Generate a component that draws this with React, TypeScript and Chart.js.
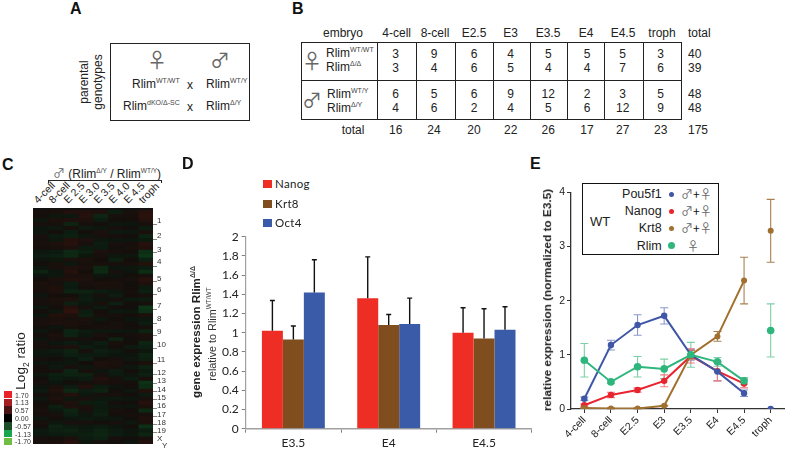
import React, { useEffect, useRef } from "react";
import { Chart, registerables } from "chart.js";

Chart.register(...registerables);

const SANS = '"Liberation Sans", Arial, sans-serif';
const INK = "#222";

/* Panel B */
const stages = ["4-cell", "8-cell", "E2.5", "E3", "E3.5", "E4", "E4.5", "troph"];
const femaleWT = [3, 9, 6, 4, 5, 5, 5, 3];
const femaleKO = [3, 4, 6, 5, 4, 4, 7, 6];
const maleWT = [6, 5, 6, 9, 12, 2, 3, 5];
const maleKO = [4, 6, 2, 4, 5, 6, 12, 9];
const stageTotals = [16, 24, 20, 22, 26, 17, 27, 23];
const rowTotals = [40, 39, 48, 48];
const grandTotal = 175;

/* Panel C */
const heatColumns = ["4-cell", "8-cell", "E 2.5", "E 3.0", "E 3.5", "E 4.0", "E 4.5", "troph"];
const c4cell = [.1,.08,-.1,-.12,.05,.1,-.05,.08,.12,.05, 0,-.1,.05,-.15,-.05,.1,.05,-.1,.06,.05, -.05,.08,-.08,-.1,.06,.1,-.05,.05,-.1,.05, .12,.1,-.08,.05,-.1,.06,.1,-.05,.08,.12, .15,.05,-.05,-.3,-.08,.05,-.05,-.2,-.1,.05, .1,.06,.1,-.05,-.08,.1,-.1,.05,.08];
const c8cell = [.12,.05,-.15,-.25,-.3,-.1,.05,.1,-.1,-.25, .08,.2,.1,.25,.15,-.08,-.2,-.25,.1,-.12, -.08,.05,-.05,-.15,.1,-.08,.1,.15,.05,-.05, .2,.15,.25,-.1,.05,.1,.18,.05,.2,.22, .1,.15,-.1,-.08,.1,.12,-.1,-.25,-.15,.1, .2,-.1,-.15,.05,-.12,.1,.15,-.1,.12];
const c2p5 = [.35,.15,-.2,-.3,-.15,.1,-.08,-.25,-.35,.2, .2,-.1,.3,-.4,-.2,.05,-.1,-.3,-.35,.1, -.1,-.05,-.25,-.3,.2,-.2,.1,-.3,-.35,.1, .15,.1,.2,.5,.3,-.25,.2,.05,-.3,-.15, -.2,.25,.15,.3,.2,-.1,.15,-.4,-.45,.2, .35,.3,-.25,-.2,.1,-.3,.2,-.1,.25];
const c3p0 = [-.1,-.2,-.25,-.15,-.1,.1,-.15,-.1,.1,.15, -.2,.15,-.1,-.2,.25,.1,-.2,-.3,.1,-.1, .05,-.25,-.15,.1,-.2,-.05,.1,-.1,-.15,.05, .1,.15,-.25,-.2,.1,-.1,-.2,-.15,-.3,.05, .1,.2,.15,.05,.15,.1,.15,-.1,-.25,-.15, .1,.2,-.1,.05,-.15,.1,.2,.3,.25];
const c3p5 = [.1,-.25,-.35,-.3,-.15,.05,-.1,-.25,-.2,-.15, -.2,-.1,.1,-.3,-.2,.15,.25,.1,-.05,.15, .2,.05,-.15,-.25,-.1,-.2,.05,.15,-.1,.1, .05,-.1,.1,.05,-.15,.12,-.05,.1,-.2,.1, .15,.05,-.1,-.45,-.4,.1,.05,.1,.2,-.15, -.2,-.1,.1,.15,-.1,.05,-.2,-.35,.2];
const c4p0 = [.02,.08,-.2,-.15,-.08,.1,-.1,.05,.12,-.05, .08,-.12,.1,.05,-.05,.12,.1,-.15,-.2,.1, .15,.1,-.08,-.12,.05,.12,-.3,.05,-.1,.12, .1,.05,.1,-.12,.05,-.25,.1,-.2,-.1,.1, .15,.08,-.05,.1,-.08,.12,-.25,-.1,.1,.05, .1,-.05,.08,-.12,.1,-.1,.05,.1,-.2];
const c4p5 = [-.05,.02,-.1,-.08,.05,-.1,.02,.08,.05,-.05, .02,-.08,.05,-.1,.05,.08,-.2,-.05,.05,-.1, .04,-.1,-.05,.05,-.15,.05,.02,.08,-.05,.02, .05,-.08,.05,-.1,.02,.05,-.12,.05,.08,.05, .02,.1,.05,-.05,-.1,.12,.05,-.1,.05,.1, .08,-.05,.05,-.1,.02,-.08,.05,.08,.1];
const cTroph = [.25,.1,-.35,-.2,-.55,.15,.2,.1,-.45,.15, .3,.1,-.15,.25,-.5,-.6,.12,-.25,-.15,-.3, .15,-.25,-.3,-.1,-.25,-.35,.1,.15,-.3,.1, -.2,-.1,.15,-.55,-.65,.1,-.2,.1,-.25,-.15, .2,.35,.1,-.5,-.2,.3,-.25,-.65,-.55,.25, .35,-.15,-.3,.15,-.2,.1,.3,.4,.35];
const chromLabels = ["1","2","3","4","5","6","7","8","9","10","11","12","13","14","15","16","17","18","19","X"];
const chromCentres = [2,6,9.5,12.75,17,20,24,27.5,30.75,34.25,38,41.25,43.5,45.75,47.75,50,52.25,54.25,56.25,58.5];
const chromEdges = [4.2,8,11,15,18.5,22,26,29.5,32.5,36,40,42.5,44.8,46.8,49,51.2,53.2,55.2,57.3];
const scaleLabels = ["1.70","1.13","0.57","0.00","-0.57","-1.13","-1.70"];
const scaleColors = ["#e8232a","#a51e22","#4a1414","#000000","#1e4d2a","#1aa650","#70bf44"];

/* Panel D */
const barGroups = ["E3.5", "E4", "E4.5"];
const nanogBar = [1.02, 1.36, 1.0];
const krt8Bar = [0.93, 1.08, 0.94];
const oct4Bar = [1.42, 1.09, 1.03];
const nanogBarErr = [0.315, 0.43, 0.26];
const krt8BarErr = [0.14, 0.11, 0.31];
const oct4BarErr = [0.34, 0.27, 0.24];

/* Panel E */
const lineStages = ["4-cell", "8-cell", "E2.5", "E3", "E3.5", "E4", "E4.5", "troph"];
const pou5f1 = [0.19, 1.18, 1.55, 1.72, 1.0, 0.69, 0.29, 0];
const pou5f1Err = [0.03, 0.09, 0.19, 0.15, 0.1, 0.17, 0.06, 0];
const nanog = [0.07, 0.26, 0.35, 0.52, 0.98, 0.7, 0.47, null];
const nanogErr = [0.02, 0.05, 0.04, 0.11, 0.13, 0.18, 0.08, 0];
const krt8 = [0.02, 0.01, 0.01, 0.06, 1.0, 1.34, 2.37, 3.29];
const krt8Err = [0.01, 0.01, 0.01, 0.01, 0.08, 0.09, 0.43, 0.58];
const rlim = [0.9, 0.5, 0.78, 0.74, 1.0, 0.87, 0.52, 1.45];
const rlimErr = [0.31, 0.03, 0.19, 0.18, 0.23, 0.08, 0.06, 0.49];

function heatColor(v: number) {
  if (v >= 0) return `rgb(${Math.round(18 + v * 60)},${Math.round(15 + v * 5)},12)`;
  return `rgb(13,${Math.round(18 - v * 52)},${Math.round(13 - v * 14)})`;
}

const errorBars = {
  id: "errorBars",
  beforeDatasetsDraw(chart: any) {
    const opt = chart.options.plugins.errorBars;
    if (!opt || opt.up) return;
    draw(chart, false);
  },
  afterDatasetsDraw(chart: any) {
    const opt = chart.options.plugins.errorBars;
    if (!opt || !opt.up) return;
    draw(chart, true);
  },
};
function draw(chart: any, up: boolean) {
  const ctx = chart.ctx;
  const y = chart.scales.y;
  chart.data.datasets.forEach((ds: any, i: number) => {
    if (!ds.errs) return;
    const meta = chart.getDatasetMeta(i);
    ds.errs.forEach((e: number, k: number) => {
      const v = ds.data[k];
      if (v == null || !e) return;
      const x = meta.data[k].x;
      const top = y.getPixelForValue(v + e);
      const bot = y.getPixelForValue(up ? v : v - e);
      const cap = up ? 2.5 : 4;
      ctx.save();
      ctx.strokeStyle = ds.errColor;
      ctx.lineWidth = up ? 1.4 : 1.1;
      ctx.beginPath();
      ctx.moveTo(x, top);
      ctx.lineTo(x, bot);
      ctx.moveTo(x - cap, top);
      ctx.lineTo(x + cap, top);
      if (!up) {
        ctx.moveTo(x - cap, bot);
        ctx.lineTo(x + cap, bot);
      }
      ctx.stroke();
      ctx.restore();
    });
  });
}

function useChart(make: (c: HTMLCanvasElement) => Chart) {
  const ref = useRef<HTMLCanvasElement | null>(null);
  useEffect(() => {
    const chart = make(ref.current!);
    return () => chart.destroy();
  }, []);
  return ref;
}

function Canvas({ x, y, w, h, make }: any) {
  const ref = useChart(make);
  return (
    <div style={{ position: "absolute", left: x, top: y, width: w, height: h }}>
      <canvas ref={ref} width={w} height={h} style={{ display: "block", width: w, height: h }} />
    </div>
  );
}

function T({ x, y, a = "l", s = 12, w = 400, c = INK, rot = 0, f = SANS, ls = 0, children }: any) {
  const tx = a === "l" ? "0" : a === "r" ? "-100%" : "-50%";
  return (
    <div
      style={{
        position: "absolute", left: x, top: y, whiteSpace: "nowrap", lineHeight: 1,
        fontSize: s, fontWeight: w, color: c, fontFamily: f, letterSpacing: ls,
        transform: `translate(${tx},-50%) rotate(${rot}deg)`,
      }}
    >
      {children}
    </div>
  );
}

function Rlim({ sup, size = 7 }: any) {
  return (
    <>
      Rlim<sup style={{ fontSize: size, lineHeight: 0, color: "#444" }}>{sup}</sup>
    </>
  );
}

function Line({ x, y, w, h, c = INK }: any) {
  return <div style={{ position: "absolute", left: x, top: y, width: w, height: h, background: c }} />;
}

const SYM = '"Noto Sans CJK SC", "DejaVu Sans", sans-serif';

function PanelA() {
  return (
    <>
      <T x={70} y={9} s={16} w={700} c="#111">A</T>
      <T x={84} y={82} a="c" s={12} rot={-90}>parental</T>
      <T x={98} y={82} a="c" s={12} rot={-90}>genotypes</T>
      <div style={{ position: "absolute", left: 110, top: 43, width: 140, height: 78, border: `1.3px solid ${INK}`, boxSizing: "border-box" }} />
      <T x={157} y={60} a="c" s={20} f={SYM} c="#666">♀</T>
      <T x={220} y={60} a="c" s={20} f={SYM} c="#666">♂</T>
      <T x={132} y={84}><Rlim sup="WT/WT" /></T>
      <T x={190} y={85} a="c">x</T>
      <T x={206} y={84}><Rlim sup="WT/Y" /></T>
      <T x={123} y={106}><Rlim sup="dKO/Δ-SC" /></T>
      <T x={190} y={107} a="c">x</T>
      <T x={206} y={106}><Rlim sup="Δ/Y" /></T>
    </>
  );
}

function PanelB() {
  const hx = [396.7, 435, 474, 510.7, 548, 586, 623, 662];
  const vx = [395.7, 434, 474, 510.7, 548.3, 587, 622.7, 660.7];
  const cols = [377, 416, 455, 493, 530, 567, 604, 643];
  const rows: [number[], number][] = [[femaleWT, 53.5], [femaleKO, 67.5], [maleWT, 94], [maleKO, 108]];
  const ty = [53.5, 67.5, 94, 108];
  return (
    <>
      <T x={292} y={9} s={16} w={700} c="#111">B</T>
      <T x={343} y={33} a="c">embryo</T>
      {stages.map((s, i) => <T key={s} x={hx[i]} y={33} a="c">{s}</T>)}
      <T x={699.3} y={33} a="c">total</T>
      <div style={{ position: "absolute", left: 301, top: 42, width: 381, height: 78, border: `1.3px solid ${INK}`, boxSizing: "border-box" }} />
      <Line x={302} y={80} w={379} h={1} />
      {cols.map((x) => <Line key={x} x={x} y={42} w={1} h={78} />)}
      <T x={312} y={61} a="c" s={20} f={SYM} c="#666">♀</T>
      <T x={312} y={100} a="c" s={20} f={SYM} c="#666">♂</T>
      <T x={326} y={53}><Rlim sup="WT/WT" /></T>
      <T x={326} y={67}><Rlim sup="Δ/Δ" /></T>
      <T x={327} y={94}><Rlim sup="WT/Y" /></T>
      <T x={327} y={108}><Rlim sup="Δ/Y" /></T>
      {rows.map(([vals, y], r) => vals.map((v, i) => <T key={`${r}-${i}`} x={vx[i]} y={y} a="c">{v}</T>))}
      {rowTotals.map((v, i) => <T key={i} x={694.7} y={ty[i]} a="c">{v}</T>)}
      <T x={353} y={130} a="c">total</T>
      {stageTotals.map((v, i) => <T key={i} x={vx[i]} y={130} a="c">{v}</T>)}
      <T x={698} y={130} a="c">{grandTotal}</T>
    </>
  );
}

function makeHeat(canvas: HTMLCanvasElement) {
  const rowsData = [c4cell, c8cell, c2p5, c3p0, c3p5, c4p0, c4p5, cTroph];
  const rowLabels = c4cell.map((_, i) => String(i));
  return new Chart(canvas, {
    type: "bar",
    data: {
      labels: rowLabels,
      datasets: rowsData.map((col, c) => ({
        label: heatColumns[c],
        data: col.map(() => [c, c + 1]),
        backgroundColor: col.map(heatColor),
        borderWidth: 0,
        grouped: false,
        barPercentage: 1,
        categoryPercentage: 1,
      })),
    } as any,
    options: {
      indexAxis: "y",
      animation: false,
      responsive: false,
      layout: { padding: { left: 5, top: 3, bottom: 5, right: 0 } },
      plugins: { legend: { display: false }, tooltip: { enabled: false } },
      scales: {
        x: { display: false, type: "linear", min: 0, max: 8 },
        y: { display: false, reverse: true },
        y2: {
          type: "linear",
          position: "right",
          reverse: true,
          min: 0,
          max: c4cell.length,
          border: { display: false },
          grid: {
            drawOnChartArea: false,
            tickLength: 4,
            tickColor: (ctx: any) => (chromEdges.includes(ctx.tick?.value) ? "#888" : "rgba(0,0,0,0)"),
          },
          ticks: {
            autoSkip: false,
            padding: 0,
            color: "#333",
            font: { size: 8, family: SANS },
            callback: (v: any) => {
              const i = chromCentres.indexOf(v);
              return i >= 0 ? chromLabels[i] : "";
            },
          },
          afterBuildTicks: (s: any) => {
            s.ticks = [...chromCentres, ...chromEdges].sort((a, b) => a - b).map((value) => ({ value }));
          },
          afterFit: (s: any) => { s.width = 22; },
        },
      },
    } as any,
  });
}

function PanelC() {
  return (
    <>
      <T x={2} y={165} s={16} w={700} c="#111">C</T>
      <T x={53} y={173} s={12}>
        <span style={{ fontFamily: SYM, color: "#666" }}>♂</span> (<Rlim sup="Δ/Y" size={6.5} /> / <Rlim sup="WT/Y" size={6.5} />)
      </T>
      <Line x={48} y={180} w={114} h={1.2} />
      <Line x={48} y={180} w={1.2} h={3} />
      <Line x={161} y={180} w={1.2} h={3} />
      {heatColumns.map((s, i) => (
        <div
          key={s}
          style={{
            position: "absolute", left: 39 + 15 * i, top: 205, whiteSpace: "nowrap", lineHeight: 1,
            fontSize: 10.5, color: INK, fontFamily: SANS, transformOrigin: "0 100%",
            transform: "translateY(-100%) rotate(-45deg)",
          }}
        >
          {s}
        </div>
      ))}
      <Line x={33} y={208} w={120} h={236} c="#111" />
      <Canvas x={28} y={205} w={147} h={244} make={makeHeat} />
      <T x={162} y={446} s={8} c="#333">Y</T>
      <T x={21} y={361} a="c" s={13.5} rot={-90}>
        Log<sub style={{ fontSize: 8.5, lineHeight: 0 }}>2</sub> ratio
      </T>
      {scaleColors.map((col, i) => (
        <div key={col} style={{ position: "absolute", left: 4, top: 390.7 + i * 7.8, width: 8, height: 7.8, background: col }} />
      ))}
      {scaleLabels.map((s, i) => <T key={s} x={15} y={394.6 + i * 7.8} s={7} c="#333">{s}</T>)}
    </>
  );
}

function makeBars(canvas: HTMLCanvasElement) {
  const ds = (label: string, data: number[], errs: number[], color: string) => ({
    label, data, errs, errColor: "#111", backgroundColor: color, borderWidth: 0,
    barPercentage: 1, categoryPercentage: 0.66,
  });
  return new Chart(canvas, {
    type: "bar",
    data: {
      labels: barGroups,
      datasets: [
        ds("Nanog", nanogBar, nanogBarErr, "#ee2d24"),
        ds("Krt8", krt8Bar, krt8BarErr, "#7f4d1e"),
        ds("Oct4", oct4Bar, oct4BarErr, "#3a5ca8"),
      ],
    } as any,
    options: {
      animation: false,
      responsive: false,
      layout: { padding: { top: 11.7, right: 8.3, left: 0, bottom: 0 } },
      plugins: { legend: { display: false }, tooltip: { enabled: false }, errorBars: { up: true } },
      scales: {
        x: {
          border: { color: "#a0a0a0", width: 1.5 },
          grid: { drawOnChartArea: false, tickLength: 4, tickColor: "#808080" },
          ticks: { color: "#222", font: { size: 12, family: "Lato" }, padding: 3 },
          afterFit: (s: any) => { s.height = 20.3; },
        },
        y: {
          min: 0,
          max: 2,
          border: { color: "#a0a0a0", width: 1.2 },
          grid: { drawOnChartArea: false, tickLength: 4, tickColor: "#808080" },
          ticks: { stepSize: 0.2, color: "#222", font: { size: 12, family: "Lato" }, padding: 3, callback: (v: any) => String(Math.round(v * 10) / 10) },
          afterFit: (s: any) => { s.width = 65.7; },
        },
      },
    } as any,
    plugins: [errorBars],
  });
}

function PanelD() {
  const items = [["Nanog", "#ee2d24", 184], ["Krt8", "#7f4d1e", 203.7], ["Oct4", "#3a5ca8", 223]] as const;
  return (
    <>
      <T x={182} y={164} s={16} w={700} c="#111">D</T>
      <Canvas x={180} y={225} w={360} h={224} make={makeBars} />
      {items.map(([s, col, y]) => (
        <React.Fragment key={s}>
          <div style={{ position: "absolute", left: 263.3, top: y - 4.2, width: 8.4, height: 8.4, background: col }} />
          <T x={275} y={y} s={11.5} f="Lato" ls={0.3}>{s}</T>
        </React.Fragment>
      ))}
      <T x={195.7} y={332} a="c" s={11.6} w={700} rot={-90}>
        gene expression <Rlim sup="Δ/Δ" size={7} />
      </T>
      <T x={211.7} y={334} a="c" s={10.8} rot={-90} c="#333">
        relative to <Rlim sup="WT/WT" size={6.5} />
      </T>
    </>
  );
}

function makeLines(canvas: HTMLCanvasElement) {
  const ds = (label: string, data: any[], errs: number[], color: string, err: string, r: number) => ({
    label, data, errs, errColor: err, borderColor: color, backgroundColor: color,
    borderWidth: 2, pointRadius: r, pointBorderWidth: 0, tension: 0,
    segment: { borderColor: (ctx: any) => (ctx.p1DataIndex === 7 ? "rgba(0,0,0,0)" : color) },
  });
  return new Chart(canvas, {
    type: "line",
    data: {
      labels: lineStages,
      datasets: [
        ds("Rlim", rlim, rlimErr, "#2eb67d", "#7dcfa8", 3.8),
        ds("Pou5f1", pou5f1, pou5f1Err, "#3f57a6", "#8a97cc", 3.2),
        ds("Krt8", krt8, krt8Err, "#a0702f", "#a88050", 3),
        ds("Nanog", nanog, nanogErr, "#e8242e", "#ee7a80", 3.2),
      ],
    } as any,
    options: {
      animation: false,
      responsive: false,
      layout: { padding: { top: 12.3, right: 0, left: 0, bottom: 0 } },
      plugins: { legend: { display: false }, tooltip: { enabled: false }, errorBars: { up: false } },
      scales: {
        x: {
          offset: true,
          border: { color: "#333", width: 1.3 },
          grid: { offset: false, drawOnChartArea: false, tickLength: 4, tickColor: "#333" },
          ticks: { autoSkip: false, color: "#222", minRotation: 45, maxRotation: 45, font: { size: 10.5, family: SANS }, padding: 1 },
          afterFit: (s: any) => { s.height = 40; },
        },
        y: {
          min: 0,
          max: 4,
          border: { color: "#333", width: 1.3 },
          grid: { drawOnChartArea: false, tickLength: 4, tickColor: "#333" },
          ticks: { stepSize: 1, color: "#222", font: { size: 10.5, family: SANS }, padding: 2 },
          afterFit: (s: any) => { s.width = 51; },
        },
      },
    } as any,
    plugins: [errorBars],
  });
}

function PanelE() {
  const items = [
    ["Pou5f1", "#3f57a6", 194.3, 5.6],
    ["Nanog", "#e8242e", 211.3, 5.6],
    ["Krt8", "#a0702f", 228.3, 5.6],
    ["Rlim", "#2eb67d", 245.7, 7],
  ] as const;
  return (
    <>
      <T x={530} y={164} s={16} w={700} c="#111">E</T>
      <Canvas x={520} y={180} w={268} h={269} make={makeLines} />
      <T x={548.3} y={300} a="c" s={11.8} w={700} rot={-90}>relative expression (normalized to E3.5)</T>
      <div style={{ position: "absolute", left: 581.5, top: 183, width: 137.5, height: 72, background: "#fff", border: "1.2px solid #111", boxSizing: "border-box" }} />
      <T x={590} y={220.7} s={13}>WT</T>
      {items.map(([s, col, y, d], i) => (
        <React.Fragment key={s}>
          <T x={661.7} y={y} a="r" s={12.5}>{s}</T>
          <div style={{ position: "absolute", left: 671.7 - d / 2, top: y - d / 2, width: d, height: d, borderRadius: "50%", background: col }} />
          {i < 3 ? (
            <T x={681} y={y} s={12} f={SYM} c="#666">♂<span style={{ color: "#111" }}>+</span>♀</T>
          ) : (
            <T x={693} y={y} a="c" s={12} f={SYM} c="#666">♀</T>
          )}
        </React.Fragment>
      ))}
    </>
  );
}

export default function App() {
  return (
    <div style={{ position: "fixed", left: 0, top: 0, width: 788, height: 449, overflow: "hidden", background: "#fff", filter: "blur(0.35px)" }}>
      <PanelA />
      <PanelB />
      <PanelC />
      <PanelD />
      <PanelE />
    </div>
  );
}
